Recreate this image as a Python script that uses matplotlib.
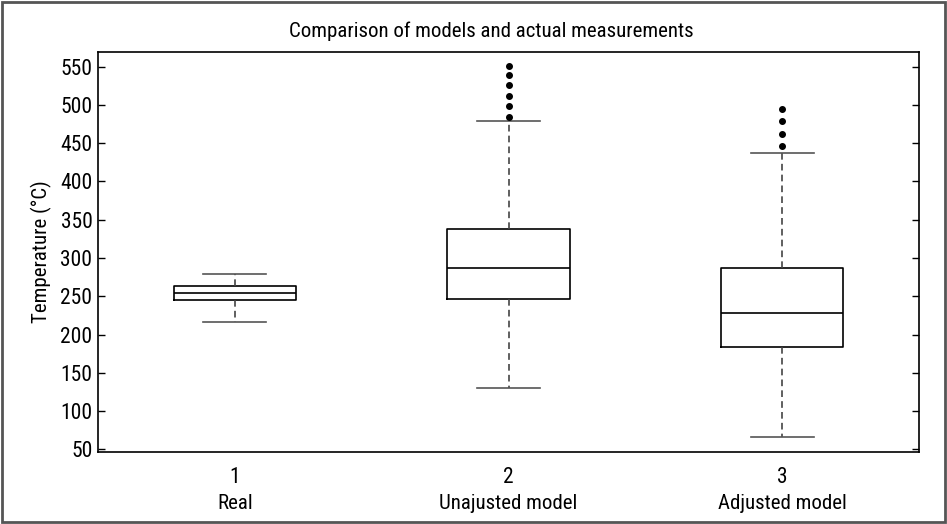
import matplotlib
matplotlib.use("Agg")
import matplotlib.pyplot as plt
from matplotlib.patches import Rectangle

plt.rcParams['font.family'] = ['Roboto Condensed', 'DejaVu Sans']
plt.rcParams['font.stretch'] = 'condensed'

# ---- data ----
positions = [1, 2, 3]
tick_numbers = ['1', '2', '3']
categories = ['Real', 'Unajusted model', 'Adjusted model']
whislo = [216.7, 130.5, 66.5]
q1 = [245.5, 246.4, 183.7]
med = [254.3, 286.5, 228.5]
q3 = [263.0, 338.3, 287.3]
whishi = [279.5, 478.6, 437.2]
fliers = [[],
          [484.3, 498.6, 512.1, 525.7, 539.2, 551.3],
          [446.0, 462.4, 478.6, 494.3]]
yticks = [50, 100, 150, 200, 250, 300, 350, 400, 450, 500, 550]
title = 'Comparison of models and actual measurements'
ylabel = 'Temperature (°C)'

stats = []
for i in range(len(positions)):
    stats.append(dict(whislo=whislo[i], q1=q1[i], med=med[i], q3=q3[i],
                      whishi=whishi[i], fliers=fliers[i], label=tick_numbers[i]))

fig = plt.figure(figsize=(9.47, 5.24), dpi=100)
ax = fig.add_axes([98 / 947, 1 - 451.7 / 524, (919 - 98) / 947, (451.7 - 52) / 524])

ax.bxp(stats, positions=positions, widths=0.447, showfliers=True,
       boxprops=dict(color='black', linewidth=1.2),
       medianprops=dict(color='black', linewidth=1.2),
       whiskerprops=dict(color='#444444', linewidth=1.2, linestyle=(0, (4, 2.5))),
       capprops=dict(color='#555555', linewidth=1.2),
       flierprops=dict(marker='o', markerfacecolor='black', markeredgecolor='black',
                       markersize=4.0, linestyle='none'),
       capwidths=0.23)

ax.set_xlim(0.5, 3.5)
ax.set_ylim(46.9, 569.2)
ax.set_yticks(yticks)
ax.set_yticklabels([str(v) for v in yticks], fontsize=15.5)
ax.set_xticks(positions)
ax.set_xticklabels(tick_numbers, fontsize=15.5)
ax.tick_params(axis='y', direction='in', length=5, width=1, left=True, right=True, pad=4)
ax.tick_params(axis='x', length=0, pad=11)
for s in ax.spines.values():
    s.set_linewidth(1.2)
    s.set_color('black')

for p, c in zip(positions, categories):
    ax.annotate(c, xy=(p, 0), xycoords=('data', 'axes fraction'),
                xytext=(0, -37.5), textcoords='offset points',
                ha='center', va='center', fontsize=15)

ax.set_ylabel(ylabel, fontsize=15, labelpad=6)
fig.text(491 / 947, 1 - 31 / 524, title, ha='center', va='center', fontsize=15)

fig.patches.append(Rectangle((0.002, 0.003), 0.996, 0.994, transform=fig.transFigure,
                             fill=False, edgecolor='#555555', linewidth=2))

fig.savefig('out.png', dpi=100)
